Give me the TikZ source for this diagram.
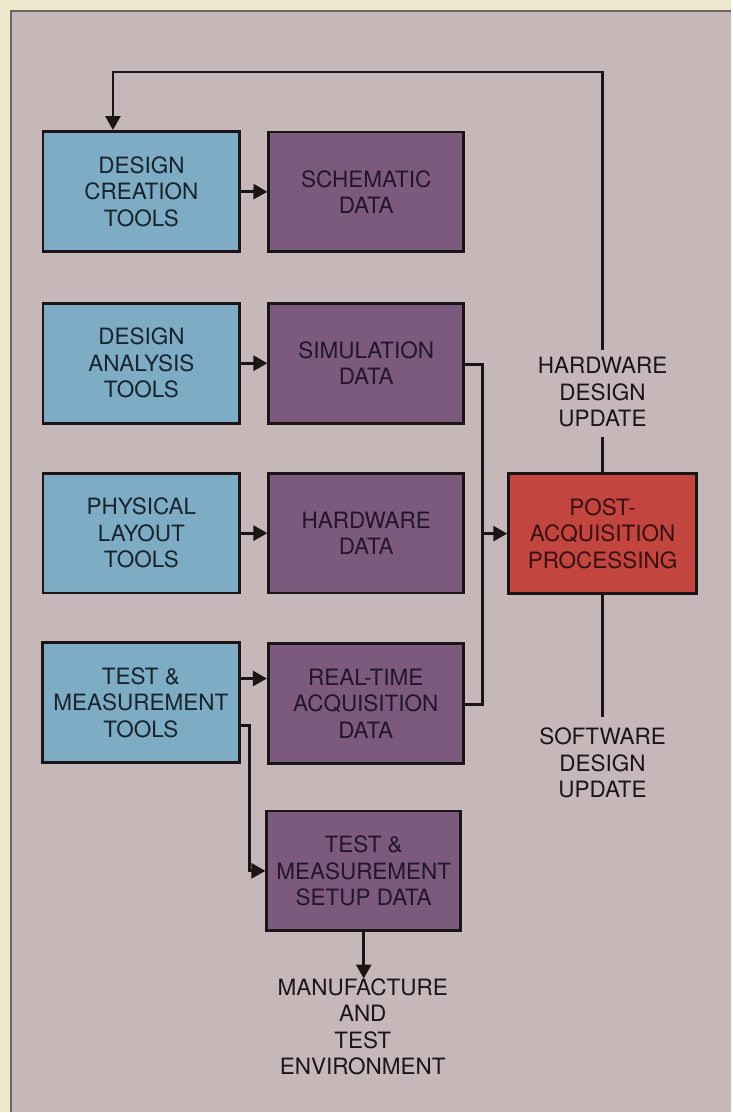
\documentclass[tikz,border=0pt]{standalone}
\usepackage{fontspec}
\setmainfont{TeX Gyre Heros}
\usetikzlibrary{arrows.meta}
\definecolor{paper}{HTML}{EEE8CC}
\definecolor{panel}{HTML}{C6B8B9}
\definecolor{paneledge}{HTML}{6F6466}
\definecolor{toolblue}{HTML}{7EACC5}
\definecolor{datapurple}{HTML}{7C5A7E}
\definecolor{procred}{HTML}{C2453F}
\definecolor{ink}{HTML}{1B1517}
\definecolor{bluetext}{HTML}{17242E}
\definecolor{purpletext}{HTML}{24162A}
\definecolor{redtext}{HTML}{3A1010}
\tikzset{
  boxbase/.style={draw=ink, line width=2.8pt, inner sep=0pt, align=center,
    font=\fontsize{22.5}{26.5}\selectfont},
  toolbox/.style={boxbase, fill=toolblue, text=bluetext, minimum width=197pt, minimum height=120pt},
  databox/.style={boxbase, fill=datapurple, text=purpletext, minimum width=195pt, minimum height=120pt},
  procbox/.style={boxbase, fill=procred, text=redtext, minimum width=188pt, minimum height=120pt},
  freelabel/.style={inner sep=0pt, align=center, text=ink,
    font=\fontsize{22.5}{26.3}\selectfont},
  wire/.style={draw=ink, line width=2.8pt},
  flow/.style={wire, -{Triangle[length=14pt,width=15pt]}},
}
\begin{document}
\begin{tikzpicture}[x=1pt,y=-1pt]
% page and panel
\fill[paper] (0,0) rectangle (732,1113);
\fill[panel] (11,11) rectangle (732,1113);
\draw[paneledge, line width=1.6pt] (11,1113) -- (11,11) -- (732,11);
\useasboundingbox (0,0) rectangle (732,1113);

% tool boxes (left column)
\node[toolbox] (dct) at (141.5,191.5) {DESIGN\\CREATION\\TOOLS};
\node[toolbox] (dat) at (141.5,363.5) {DESIGN\\ANALYSIS\\TOOLS};
\node[toolbox] (plt) at (141.5,533.5) {PHYSICAL\\LAYOUT\\TOOLS};
\node[toolbox] (tmt) at (141,703) {TEST \&\\MEASUREMENT\\TOOLS};

% data boxes (middle column)
\node[databox] (sch) at (366.5,192) {SCHEMATIC\\DATA};
\node[databox] (sim) at (366.5,363.5) {SIMULATION\\DATA};
\node[databox] (hw)  at (366.5,533.5) {HARDWARE\\DATA};
\node[databox] (rt)  at (366,704) {REAL-TIME\\ACQUISITION\\DATA};
\node[databox, minimum width=194pt] (setup) at (364,871.5) {TEST \&\\MEASUREMENT\\SETUP DATA};

% processing box
\node[procbox] (pap) at (603,534) {POST-\\ACQUISITION\\PROCESSING};

% free labels
\node[freelabel] (hwu) at (603,392.5) {HARDWARE\\DESIGN\\UPDATE};
\node[freelabel] (swu) at (603,763.5) {SOFTWARE\\DESIGN\\UPDATE};
\node[freelabel] (mfg) at (363,1027.5) {MANUFACTURE\\AND\\TEST\\ENVIRONMENT};

% tools to data
\draw[flow] (dct.east) -- (sch.west);
\draw[flow] (dat.east |- sim.west) -- (sim.west);
\draw[flow] (plt.east |- hw.west) -- (hw.west);
\draw[flow] ([yshift=24pt]tmt.east) -- ([yshift=24pt]tmt.east -| rt.west);

% setup data branch
\coordinate (tmbend) at (250,871.5);
\draw[flow] ([yshift=-23pt]tmt.east) -| (tmbend) -- (setup.west);
\draw[flow] (setup.south) -- (setup.south |- mfg.north);

% collection bus into post-acquisition processing
\coordinate (bustop) at (483,365);
\coordinate (busbot) at (483,705);
\draw[wire] (sim.east |- bustop) -- (bustop) -- (busbot) -- (rt.east |- busbot);
\draw[flow] (bustop |- pap.west) -- (pap.west);

% hardware update feedback
\coordinate (hwtop) at (603,350);
\coordinate (hwbot) at (603,437);
\coordinate (fbright) at (603,72);
\coordinate (fbleft) at (113,72);
\draw[wire] (pap.north) -- (hwbot);
\draw[flow] (hwtop) -- (fbright) -- (fbleft) -- (fbleft |- dct.north);

% software update
\coordinate (swtop) at (603,718);
\draw[wire] (pap.south) -- (swtop);
\end{tikzpicture}
\end{document}
